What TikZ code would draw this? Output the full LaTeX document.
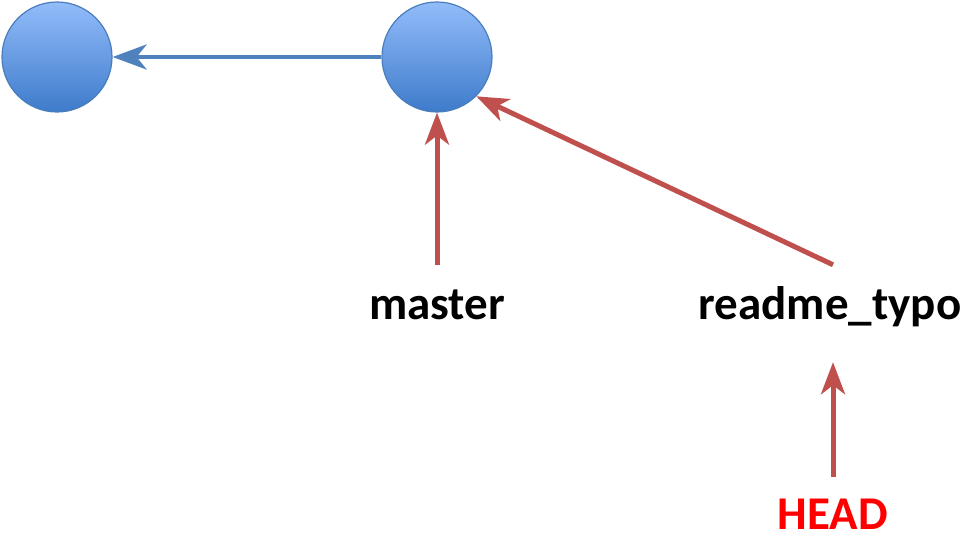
\documentclass[tikz,border=0pt]{standalone}
\usepackage{fontspec}
\setmainfont{Carlito}
\usetikzlibrary{arrows.meta}
\definecolor{cborder}{HTML}{4A7EBB}
\definecolor{ctop}{HTML}{92BCFA}
\definecolor{cbot}{HTML}{3E7BCB}
\definecolor{bluearrow}{HTML}{4F81BD}
\definecolor{redarrow}{HTML}{C0504D}
\begin{document}
\begin{tikzpicture}[x=1pt,y=-1pt,
  commit/.style={circle, minimum size=110pt, inner sep=0pt, draw=cborder, line width=1.2pt, top color=ctop, bottom color=cbot},
  label/.style={font=\bfseries\fontsize{47}{50}\selectfont, anchor=base, inner sep=0pt, text height=32pt, text depth=10pt},
  bluelink/.style={draw=bluearrow, line width=4.5pt, -{Stealth[length=34pt,width=25pt,inset=10pt]}},
  redlink/.style={draw=redarrow, line width=5pt, -{Stealth[length=32pt,width=24pt,inset=9pt]}}
]
\useasboundingbox (0,0) rectangle (966,540);
\node[commit] (c1) at (57,57) {};
\node[commit] (c2) at (437,57) {};
\node[label] (master) at (437,319) {master};
\node[label] (readme) at (830,319) {readme\_typo};
\node[label, text=red, text depth=0pt] (head) at (833,529) {HEAD};
\draw[bluelink] (c2) -- (c1);
\draw[redlink, shorten <=22pt] (master.north) -- (c2.south);
\draw[redlink] ([xshift=3pt,yshift=22pt]readme.north) -- (c2.-45);
\draw[redlink, shorten <=20pt, shorten >=33pt] (head.north) -- (head.north |- readme.south);
\end{tikzpicture}
\end{document}
